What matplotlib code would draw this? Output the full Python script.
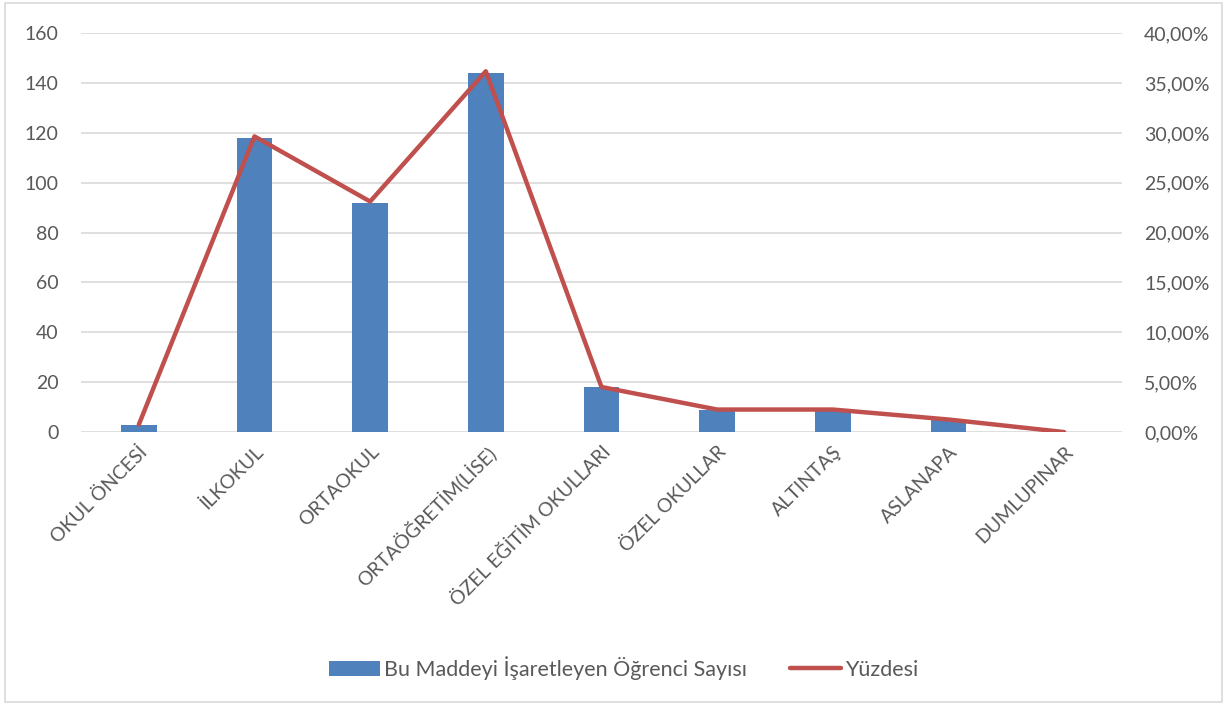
import numpy as np
import matplotlib.pyplot as plt
from matplotlib.patches import Rectangle

# data
categories = ["OKUL ÖNCESİ", "İLKOKUL", "ORTAOKUL", "ORTAÖĞRETİM(LİSE)",
              "ÖZEL EĞİTİM OKULLARI", "ÖZEL OKULLAR", "ALTINTAŞ", "ASLANAPA", "DUMLUPINAR"]
counts = [3, 118, 92, 144, 18, 9, 9, 5, 0]
percents = [0.75, 29.65, 23.12, 36.18, 4.52, 2.26, 2.26, 1.26, 0.0]

left_ticks = [0, 20, 40, 60, 80, 100, 120, 140, 160]
right_ticks = [0, 5, 10, 15, 20, 25, 30, 35, 40]

bar_color = "#4F81BD"
line_color = "#C0504D"
txt = "#595959"

plt.rcParams['font.family'] = ['Lato', 'DejaVu Sans']

fig = plt.figure(figsize=(12.27, 7.06), dpi=100)
ax = fig.add_axes([0.066, 0.388, 0.8484, 0.565])
ax2 = ax.twinx()

x = np.arange(len(categories))
bars = ax.bar(x, counts, width=0.31, color=bar_color, zorder=2)
line, = ax2.plot(x, percents, color=line_color, lw=3.2, zorder=3,
                 solid_capstyle='round')

ax.set_xlim(-0.5, len(categories) - 0.5)
ax.set_ylim(0, 160)
ax2.set_ylim(0, 40)
ax.set_yticks(left_ticks)
ax2.set_yticks(right_ticks)
ax2.set_yticklabels([f"{v},00%" for v in right_ticks])

# grid
for v in left_ticks:
    ax.axhline(v, color="#D9D9D9", lw=1.2, zorder=0)

for a in (ax, ax2):
    for s in a.spines.values():
        s.set_visible(False)
    a.tick_params(length=0, labelsize=14, colors=txt)

ax.tick_params(axis='y', pad=16)
ax2.tick_params(axis='y', pad=16)
ax.set_xticks(x)
ax.set_xticklabels(categories, rotation=45, ha='right', rotation_mode='anchor')
ax.tick_params(axis='x', pad=8)

fig.legend([bars, line], ["Bu Maddeyi İşaretleyen Öğrenci Sayısı", "Yüzdesi"],
           loc='center', bbox_to_anchor=(0.508, 0.054), ncol=2, frameon=False,
           fontsize=15.5, labelcolor=txt, handlelength=2.4, handletextpad=0.15,
           columnspacing=2.0)

# outer border
fig.patches.append(Rectangle((0.004, 0.006), 0.992, 0.99, transform=fig.transFigure,
                             fill=False, edgecolor="#D9D9D9", lw=1.2))

fig.savefig("out.png", dpi=100)
